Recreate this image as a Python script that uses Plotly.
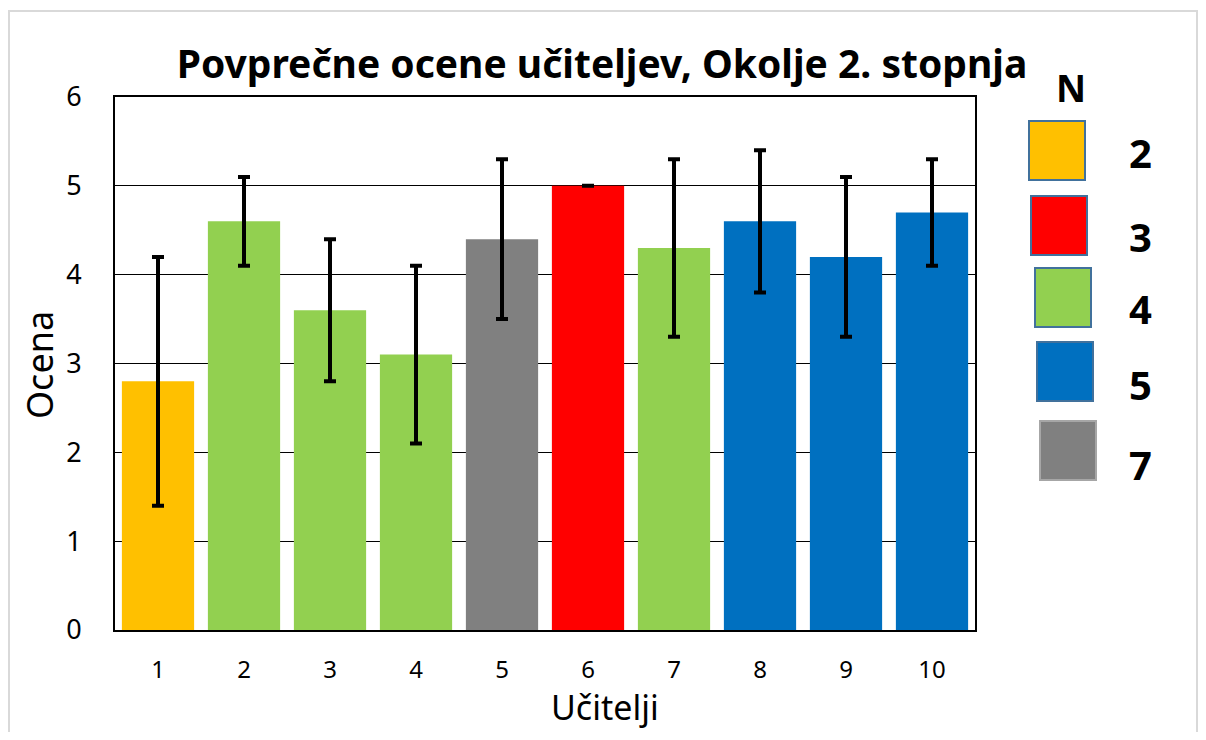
import plotly.graph_objects as go

teachers = ["1", "2", "3", "4", "5", "6", "7", "8", "9", "10"]
means = [2.8, 4.6, 3.6, 3.1, 4.4, 5.0, 4.3, 4.6, 4.2, 4.7]
errors = [1.4, 0.5, 0.8, 1.0, 0.9, 0.0, 1.0, 0.8, 0.9, 0.6]
n_per_teacher = [2, 4, 4, 4, 7, 3, 4, 5, 5, 5]
legend_n = [2, 3, 4, 5, 7]
n_colors = {2: "#FFC000", 3: "#FF0000", 4: "#92D050", 5: "#0070C0", 7: "#808080"}

OFF = 8  # page body margin
W, H = 1206 - 2 * OFF, 740 - 2 * OFF
# plot area in page coordinates
PX0, PX1, PY0, PY1 = 115, 975, 97, 630
L = PX0 - OFF
R = W - (PX1 - OFF)
T = PY0 - OFF
B = H - (PY1 - OFF)
pw, ph = PX1 - PX0, PY1 - PY0

def px(x):
    return (x - PX0) / pw

def py(y):
    return (PY1 - y) / ph

fig = go.Figure()
fig.add_trace(go.Bar(
    x=teachers, y=means,
    marker=dict(color=[n_colors[n] for n in n_per_teacher], line=dict(width=0)),
    error_y=dict(type="data", array=errors, visible=True, color="black", thickness=4, width=6),
    showlegend=False,
))

font = "Noto Sans"
shapes = [
    dict(type="rect", xref="paper", yref="paper", x0=px(9), x1=px(1197), y0=py(770), y1=py(11),
         line=dict(color="#D9D9D9", width=2), fillcolor="rgba(0,0,0,0)", layer="below"),
]
annotations = [
    dict(text="<b>N</b>", xref="paper", yref="paper", x=px(1071), y=py(88),
         xanchor="center", yanchor="middle", showarrow=False,
         font=dict(family=font, size=37, color="black")),
    dict(text="Učitelji", xref="paper", yref="paper", x=px(605), y=py(H + OFF - 1),
         xanchor="center", yanchor="bottom", showarrow=False, borderpad=0,
         font=dict(family=font, size=34, color="black")),
    dict(text="Ocena", xref="paper", yref="paper", x=px(39), y=py(365), textangle=-90,
         xanchor="center", yanchor="middle", showarrow=False,
         font=dict(family=font, size=36, color="black")),
]
box_x = [1029, 1031, 1035, 1037, 1040]
box_y = [121, 196, 268, 342, 421]
label_y = [152, 236, 308, 384, 465]
for i, n in enumerate(legend_n):
    outline = "#41719C" if n != 7 else "#A6A6A6"
    shapes.append(dict(type="rect", xref="paper", yref="paper",
                       x0=px(box_x[i]), x1=px(box_x[i] + 56),
                       y0=py(box_y[i] + 59), y1=py(box_y[i]),
                       fillcolor=n_colors[n], line=dict(color=outline, width=2)))
    annotations.append(dict(text=f"<b>{n}</b>", xref="paper", yref="paper",
                            x=px(1140), y=py(label_y[i]), xanchor="center", yanchor="middle",
                            showarrow=False,
                            font=dict(family=font, size=40, color="black")))

fig.update_layout(
    width=W, height=H,
    margin=dict(l=L, r=R, t=T, b=B),
    paper_bgcolor="white", plot_bgcolor="white",
    bargap=0.16,
    title=dict(text="<b>Povprečne ocene učiteljev, Okolje 2. stopnja</b>",
               xref="container", x=(602 - OFF) / W, xanchor="center",
               yref="container", y=1 - (64 - OFF) / H, yanchor="middle",
               font=dict(family=font, size=39, color="black")),
    font=dict(family=font, color="black"),
    shapes=shapes,
    annotations=annotations,
)
fig.update_xaxes(
    showline=True, linecolor="black", linewidth=2, mirror=True,
    ticks="", tickfont=dict(size=24), ticklabelstandoff=17,
)
fig.update_yaxes(
    range=[0, 6], dtick=1, showline=True, linecolor="black", linewidth=2, mirror=True,
    showgrid=True, gridcolor="black", gridwidth=1, zeroline=False,
    ticks="", tickfont=dict(size=27), ticklabelstandoff=26,
)

fig.write_html("out.html")
